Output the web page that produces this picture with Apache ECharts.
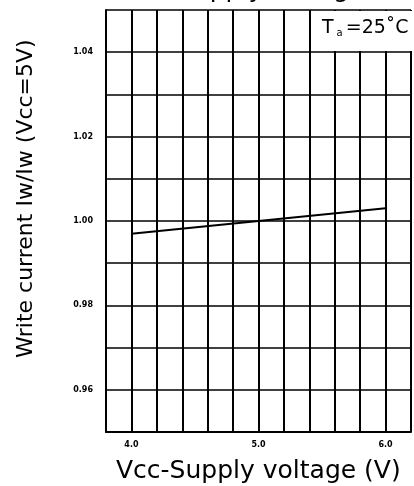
<!DOCTYPE html>
<html>
<head>
<meta charset="utf-8">
<script src="https://cdn.jsdelivr.net/npm/echarts@6/dist/echarts.min.js"></script>
<style>html,body{margin:0;padding:0;background:#fff;}#c{width:414px;height:486px;}</style>
</head>
<body>
<div id="c"></div>
<script>
var supplyVoltage = [4.0, 5.0, 6.0];
var writeCurrentRatio = [0.997, 1.000, 1.003];
var xTickLabels = ['4.0', '5.0', '6.0'];
var yTickLabels = ['0.96', '0.98', '1.00', '1.02', '1.04'];
var titleText = 'Supply voltage';
var xAxisTitle = 'Vcc-Supply voltage (V)';
var yAxisTitle = 'Write current Iw/Iw (Vcc=5V)';

var chart = echarts.init(document.getElementById('c'), null, {renderer: 'canvas'});
var labelFont = {fontFamily: 'DejaVu Sans', fontSize: 8, fontWeight: 'bold', color: '#000'};
chart.setOption({
  animation: false,
  backgroundColor: '#fff',
  grid: {left: 106, top: 10, width: 310, bottom: 54, containLabel: false},
  xAxis: {
    type: 'value', min: 3.8, max: 6.2, interval: 0.2,
    axisLine: {show: true, lineStyle: {color: '#000', width: 2}},
    axisTick: {show: false},
    splitLine: {show: true, lineStyle: {color: '#000', width: 2}},
    axisLabel: Object.assign({margin: 9, formatter: function (v) {
      var s = v.toFixed(1);
      return xTickLabels.indexOf(s) >= 0 ? s : '';
    }}, labelFont)
  },
  yAxis: {
    type: 'value', min: 0.95, max: 1.05, interval: 0.01,
    axisLine: {show: true, lineStyle: {color: '#000', width: 2}},
    axisTick: {show: false},
    splitLine: {show: true, lineStyle: {color: '#000', width: 1.5}},
    axisLabel: Object.assign({margin: 13, formatter: function (v) {
      var s = v.toFixed(2);
      return yTickLabels.indexOf(s) >= 0 ? s : '';
    }}, labelFont)
  },
  series: [{
    type: 'line',
    data: supplyVoltage.map(function (x, i) { return [x, writeCurrentRatio[i]]; }),
    symbol: 'none',
    lineStyle: {color: '#000', width: 2}
  }],
  graphic: [
    {type: 'text', x: 178, y: 3, style: {text: titleText, fontFamily: 'DejaVu Sans', fontSize: 25, fill: '#000', verticalAlign: 'bottom'}},
    {type: 'rect', shape: {x: 316, y: 11, width: 100, height: 40}, style: {fill: '#fff'}, z: 50},
    {type: 'text', x: 322, y: 18, z: 51, style: {
      rich: {
        t: {fontFamily: 'DejaVu Sans', fontSize: 19, fill: '#000'},
        s: {fontFamily: 'DejaVu Sans', fontSize: 10, fill: '#000', padding: [10, 3, 0, 3]},
        r: {fontFamily: 'DejaVu Sans', fontSize: 19, fill: '#000'}
      },
      text: '{t|T}{s|a}{r|=25˚C}'
    }},
    {type: 'text', x: 116, y: 459, style: {text: xAxisTitle, fontFamily: 'DejaVu Sans', fontSize: 25, fill: '#000'}},
    {type: 'text', x: 15, y: 358, rotation: Math.PI / 2, style: {text: yAxisTitle, fontFamily: 'DejaVu Sans', fontSize: 22, fill: '#000'}}
  ]
});
</script>
</body>
</html>
